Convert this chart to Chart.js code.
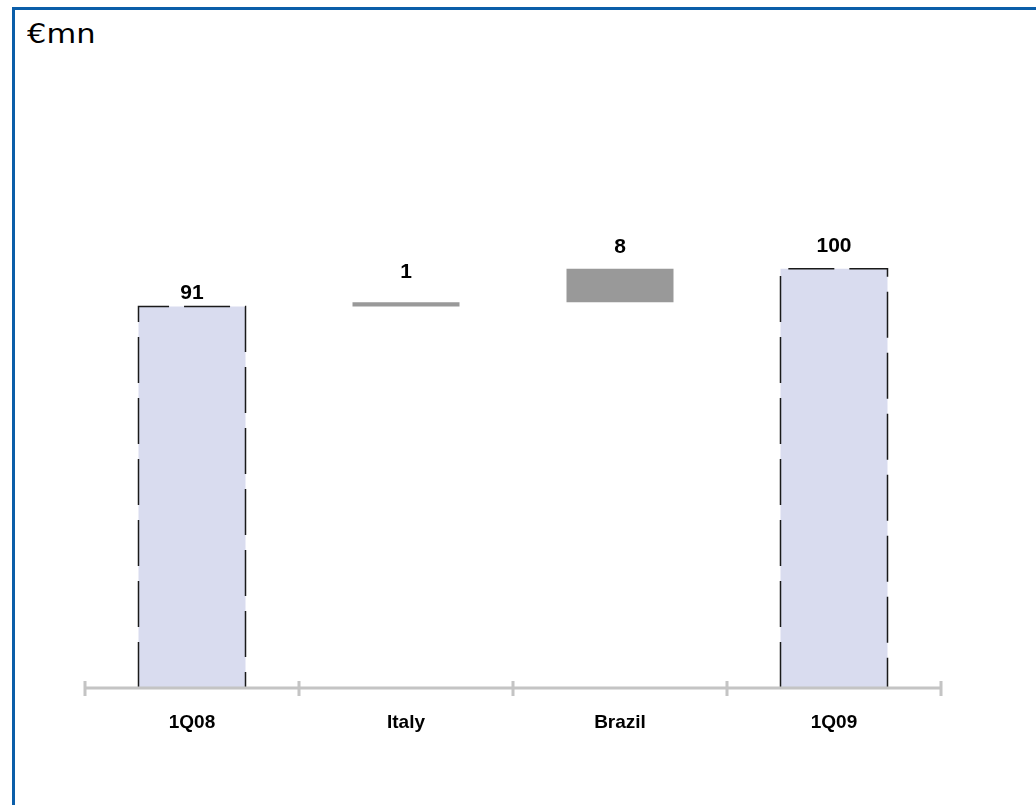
<!DOCTYPE html>
<html>
<head>
<meta charset="utf-8">
<script src="https://cdn.jsdelivr.net/npm/chart.js@4/dist/chart.umd.min.js"></script>
<style>
  html, body { margin: 0; padding: 0; background: #fff; }
  #wrap { position: relative; width: 1036px; height: 805px; overflow: hidden; }
  #frame {
    position: absolute; left: 12px; top: 7px; right: 0; bottom: 0;
    border-top: 3px solid #0B5EA9; border-left: 3px solid #0B5EA9;
  }
  #unit {
    position: absolute; left: 27px; top: 18px;
    font-family: "DejaVu Sans", sans-serif; font-size: 27px; color: #000;
    transform: scaleX(1.13); transform-origin: left top;
  }
  canvas { position: absolute; left: 0; top: 0; }
</style>
</head>
<body>
<div id="wrap">
  <div id="frame"></div>
  <div id="unit">€mn</div>
  <canvas id="chart" width="1036" height="805"></canvas>
</div>
<script>
// bridge: opening total, country deltas, closing total
const categories = ['1Q08', 'Italy', 'Brazil', '1Q09'];
const values = [91, 1, 8, 100];
const isTotal = [true, false, false, true];

const totalFill = '#D9DCEF';
const deltaFill = '#999999';
const labelGap = [8, 24, 16, 17];

// turn deltas into floating [start, end] ranges on a running total
let running = 0;
const ranges = values.map((v, i) => {
  if (isTotal[i]) {
    running = v;
    return [0, v];
  }
  const r = [running, running + v];
  running += v;
  return r;
});

const waterfallDecor = {
  id: 'waterfallDecor',
  afterDatasetsDraw(chart) {
    const ctx = chart.ctx;
    const meta = chart.getDatasetMeta(0);
    const x = chart.scales.x;
    const area = chart.chartArea;

    // dashed outline on the total bars
    ctx.save();
    ctx.strokeStyle = '#1a1a1a';
    ctx.lineWidth = 1.5;
    ctx.setLineDash([46, 15]);
    meta.data.forEach((bar, i) => {
      if (!isTotal[i]) return;
      const half = bar.width / 2;
      ctx.beginPath();
      ctx.moveTo(bar.x - half, bar.base);
      ctx.lineTo(bar.x - half, bar.y);
      ctx.lineTo(bar.x + half, bar.y);
      ctx.lineTo(bar.x + half, bar.base);
      ctx.stroke();
    });
    ctx.restore();

    // baseline with category separators
    const step = x.getPixelForValue(1) - x.getPixelForValue(0);
    const yBase = chart.scales.y.getPixelForValue(0);
    ctx.save();
    ctx.strokeStyle = '#C4C4C4';
    ctx.lineWidth = 3;
    ctx.beginPath();
    ctx.moveTo(area.left, yBase);
    ctx.lineTo(area.right, yBase);
    for (let i = 0; i <= categories.length; i++) {
      const px = x.getPixelForValue(0) - step / 2 + i * step;
      ctx.moveTo(px, yBase - 7);
      ctx.lineTo(px, yBase + 8);
    }
    ctx.stroke();
    ctx.restore();

    // value labels above each bar
    ctx.save();
    ctx.fillStyle = '#000';
    ctx.font = 'bold 21px "Liberation Sans", Arial, sans-serif';
    ctx.textAlign = 'center';
    ctx.textBaseline = 'alphabetic';
    meta.data.forEach((bar, i) => {
      ctx.fillText(String(values[i]), bar.x, bar.y - labelGap[i]);
    });
    ctx.restore();
  }
};

new Chart(document.getElementById('chart'), {
  type: 'bar',
  data: {
    labels: categories,
    datasets: [{
      data: ranges,
      backgroundColor: values.map((v, i) => isTotal[i] ? totalFill : deltaFill),
      borderWidth: 0,
      barPercentage: 0.5,
      categoryPercentage: 1.0
    }]
  },
  options: {
    responsive: false,
    animation: false,
    layout: { padding: { left: 85, right: 95, top: 185, bottom: 57 } },
    plugins: {
      legend: { display: false },
      tooltip: { enabled: false }
    },
    scales: {
      x: {
        grid: { display: false, drawTicks: false },
        border: { display: false },
        ticks: {
          color: '#000',
          padding: 23,
          font: { family: '"Liberation Sans", Arial, sans-serif', size: 19, weight: 'bold' }
        },
        afterFit(scale) { scale.height = 60; }
      },
      y: {
        display: false,
        min: 0,
        max: 120
      }
    }
  },
  plugins: [waterfallDecor]
});
</script>
</body>
</html>
